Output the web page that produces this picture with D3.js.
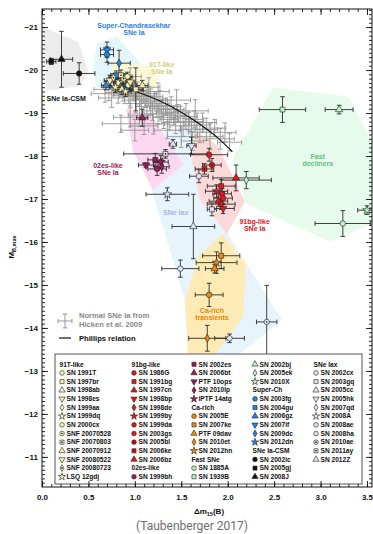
<!DOCTYPE html>
<html>
<head>
<meta charset="utf-8">
<script src="https://cdn.jsdelivr.net/npm/d3@7"></script>
<style>
    body { margin: 0; background: #fff; }
    svg { display: block; }
    text { font-family: 'Liberation Sans', Arial, sans-serif; }
</style>
</head>
<body>
<div id="chart"></div>
<script>
// ticks
const xTicks = [0, 0.5, 1, 1.5, 2, 2.5, 3, 3.5];
const yTicks = [-21, -20, -19, -18, -17, -16, -15, -14, -13, -12, -11];

// normal SNe Ia (Hicken et al. 2009): [dm15, M, dm15 err, M err]
const normalSNe = [
    [0.68, -19.45, 0.15, 0.20], [0.72, -19.55, 0.16, 0.26], [0.75, -19.35, 0.14, 0.22],
    [0.78, -19.62, 0.12, 0.22], [0.82, -19.48, 0.14, 0.25], [0.84, -19.70, 0.10, 0.18],
    [0.87, -19.58, 0.15, 0.30], [0.89, -19.42, 0.12, 0.20], [0.91, -19.66, 0.10, 0.24],
    [0.93, -19.50, 0.16, 0.28], [0.95, -19.38, 0.12, 0.22], [0.95, -19.85, 0.12, 0.20],
    [0.97, -19.58, 0.10, 0.26], [0.99, -19.46, 0.14, 0.18], [1.01, -19.30, 0.12, 0.30],
    [1.03, -19.52, 0.10, 0.20], [1.05, -19.40, 0.16, 0.24], [1.07, -19.22, 0.12, 0.28],
    [1.09, -19.45, 0.14, 0.22], [1.11, -19.33, 0.10, 0.20], [1.13, -19.15, 0.12, 0.26],
    [1.15, -19.38, 0.15, 0.24], [1.15, -19.60, 0.12, 0.22], [1.17, -19.26, 0.12, 0.30],
    [1.19, -19.05, 0.10, 0.22], [1.21, -19.30, 0.14, 0.20], [1.23, -19.18, 0.12, 0.28],
    [1.25, -18.98, 0.15, 0.24], [1.25, -19.50, 0.12, 0.20], [1.27, -19.22, 0.10, 0.30],
    [1.29, -19.10, 0.13, 0.22], [1.31, -18.90, 0.12, 0.26], [1.33, -19.15, 0.16, 0.20],
    [1.35, -19.02, 0.12, 0.28], [1.37, -18.85, 0.10, 0.24], [1.39, -19.08, 0.14, 0.30],
    [1.42, -18.95, 0.12, 0.22], [1.44, -18.78, 0.15, 0.26], [1.45, -19.30, 0.15, 0.24],
    [1.46, -19.00, 0.12, 0.20], [1.49, -18.88, 0.10, 0.28], [1.52, -18.70, 0.14, 0.24],
    [1.55, -18.92, 0.12, 0.30], [1.58, -18.80, 0.16, 0.22], [1.61, -18.62, 0.12, 0.26],
    [1.64, -18.85, 0.10, 0.20], [1.65, -19.05, 0.14, 0.26], [1.67, -18.72, 0.14, 0.28],
    [1.70, -18.55, 0.12, 0.24], [1.73, -18.78, 0.15, 0.22], [1.77, -18.62, 0.12, 0.26],
    [1.81, -18.45, 0.14, 0.30], [1.86, -18.65, 0.12, 0.20], [1.92, -18.40, 0.15, 0.24],
    [1.97, -18.55, 0.12, 0.22], [2.02, -18.32, 0.13, 0.20], [1.20, -18.75, 0.12, 0.24],
    [1.05, -18.95, 0.12, 0.26], [1.50, -18.45, 0.15, 0.25], [1.62, -18.35, 0.12, 0.22],
    [1.35, -18.60, 0.14, 0.20], [0.85, -18.75, 0.20, 0.20], [1.00, -18.60, 0.15, 0.25],
    [0.95, -18.90, 0.18, 0.22], [1.10, -18.70, 0.15, 0.20]
];

// Phillips relation
const phillipsDm = [0.90, 1.10, 1.30, 1.50, 1.70, 1.90, 2.05];
const phillipsM = [-19.57, -19.43, -19.25, -19.02, -18.74, -18.41, -18.10];

// groups: names and marker shapes as in the legend
const groupHeaders = ['91T-like', '91bg-like', '02es-like', 'Ca-rich', 'Fast SNe', 'Super-Ch', 'SNe Ia-CSM', 'SNe Iax'];
const groupColors = ['#f7f0b0', '#e3161e', '#9e1b5a', '#f28a0c', '#b8f2c2', '#1d87e4', '#111111', '#dde3f5'];

const t91Names = ['SN 1991T', 'SN 1997br', 'SN 1998ab', 'SN 1998es', 'SN 1999aa', 'SN 1999dq', 'SN 2000cx',
    'SNF 20070528', 'SNF 20070803', 'SNF 20070912', 'SNF 20080522', 'SNF 20080723', 'LSQ 12gdj'];
const t91Shapes = ['o', 's', '^', 'v', 'd', '*', 'o', 'o.', 's.', '^', 'v', 'd.', '*'];
const bgNames = ['SN 1986G', 'SN 1991bg', 'SN 1997cn', 'SN 1998bp', 'SN 1998de', 'SN 1999by', 'SN 1999da',
    'SN 2003gs', 'SN 2005bl', 'SN 2006ke', 'SN 2006bz'];
const bgShapes = ['o', 's', '^', 'v', 'd', '*', 'o', 'o', 'o.', 's.', '^'];
const esNames = ['SN 1999bh', 'SN 2002es', 'SN 2006bt', 'PTF 10ops', 'SN 2010lp', 'iPTF 14atg'];
const esShapes = ['o', 's', '^', 'v', 'd', '*'];
const caNames = ['SN 2005E', 'SN 2007ke', 'PTF 09dav', 'SN 2010et', 'SN 2012hn'];
const caShapes = ['o', 's', '^', 'd', '*'];
const fastNames = ['SN 1885A', 'SN 1939B', 'SN 2002bj', 'SN 2005ek', 'SN 2010X'];
const fastShapes = ['o', 's', '^', 'd', '*'];
const superChNames = ['SN 2003fg', 'SN 2004gu', 'SN 2006gz', 'SN 2007if', 'SN 2009dc', 'SN 2012dn'];
const superChShapes = ['o', 's', '^', 'v', 'd', '*'];
const csmNames = ['SN 2002ic', 'SN 2005gj', 'SN 2008J'];
const csmShapes = ['o', 's', '^'];
const iaxNames = ['SN 2002cx', 'SN 2003gq', 'SN 2005cc', 'SN 2005hk', 'SN 2007qd', 'SN 2008A', 'SN 2008ae',
    'SN 2008ha', 'SN 2010ae', 'SN 2011ay', 'SN 2012Z'];
const iaxShapes = ['o', 's', '^', 'v', 'd', '*', 'o', 'o', 'o.', 's.', '^'];

// measurements: [name, dm15, M, dm15 err, M err]
const t91Points = [
    ['SN 1998es', 0.73, -19.76, 0.06, 0.12], ['SN 1999aa', 0.82, -19.70, 0.05, 0.10],
    ['SN 1999dq', 0.79, -19.60, 0.06, 0.12], ['SN 2000cx', 0.93, -19.65, 0.05, 0.10],
    ['SNF 20070528', 0.88, -19.80, 0.06, 0.12], ['SNF 20070803', 0.85, -19.88, 0.06, 0.12],
    ['SN 1991T', 0.92, -19.85, 0.05, 0.10], ['SN 1998ab', 1.08, -19.64, 0.06, 0.12],
    ['SNF 20070912', 0.86, -19.55, 0.06, 0.12], ['SNF 20080522', 0.95, -19.72, 0.05, 0.10],
    ['SNF 20080723', 0.77, -19.82, 0.05, 0.10], ['LSQ 12gdj', 0.90, -19.50, 0.06, 0.12],
    ['SN 1997br', 1.01, -19.55, 0.08, 0.50]
];
const bgPoints = [
    ['SN 1986G', 1.80, -18.03, 0.20, 0.15], ['SN 2005bl', 1.83, -17.79, 0.10, 0.15],
    ['SN 2006ke', 1.75, -17.70, 0.10, 0.12], ['SN 2006bz', 2.09, -17.49, 0.25, 0.30],
    ['SN 1991bg', 1.93, -17.30, 0.15, 0.15], ['SN 1999by', 1.88, -17.18, 0.12, 0.15],
    ['SN 1999da', 1.94, -17.12, 0.10, 0.12], ['SN 2003gs', 1.95, -17.02, 0.10, 0.15],
    ['SN 1997cn', 1.90, -16.95, 0.10, 0.12], ['SN 1998de', 1.93, -16.88, 0.15, 0.12],
    ['SN 1998bp', 1.95, -16.78, 0.12, 0.12]
];
const esPoints = [
    ['SN 2006bt', 1.08, -18.89, 0.06, 0.20], ['PTF 10ops', 1.12, -17.79, 0.08, 0.05],
    ['SN 2002es', 1.22, -17.91, 0.08, 0.15], ['iPTF 14atg', 1.28, -17.86, 0.08, 0.15],
    ['SN 2010lp', 1.29, -17.75, 0.08, 0.15], ['SN 1999bh', 1.24, -17.70, 0.10, 0.15]
];
const caPoints = [
    ['SN 2007ke', 1.93, -15.68, 0.20, 0.30], ['SN 2012hn', 1.88, -15.52, 0.22, 0.25],
    ['PTF 09dav', 1.86, -15.38, 0.10, 0.10], ['SN 2005E', 1.80, -14.77, 0.15, 0.27],
    ['SN 2010et', 1.78, -13.76, 0.20, 0.30]
];
const fastPoints = [
    ['SN 1939B', 2.59, -19.08, 0.25, 0.30], ['SN 2002bj', 3.20, -19.08, 0.15, 0.10],
    ['SN 2005ek', 2.20, -17.44, 0.27, 0.20], ['SN 2010X', 3.50, -16.74, 0.10, 0.10],
    ['SN 1885A', 3.24, -16.43, 0.30, 0.30]
];
const superChPoints = [
    ['SN 2007if', 0.70, -20.47, 0.07, 0.18], ['SN 2003fg', 0.70, -20.36, 0.07, 0.18],
    ['SN 2009dc', 0.83, -20.16, 0.12, 0.30], ['SN 2004gu', 0.80, -19.88, 0.06, 0.10],
    ['SN 2006gz', 0.69, -19.64, 0.05, 0.10], ['SN 2012dn', 0.91, -19.57, 0.06, 0.10]
];
const csmPoints = [
    ['SN 2005gj', 0.10, -20.20, 0.05, 0.07], ['SN 2008J', 0.21, -20.25, 0.12, 0.65],
    ['SN 2002ic', 0.40, -19.92, 0.17, 0.25]
];
const iaxPoints = [
    ['SN 2012Z', 1.41, -18.28, 0.04, 0.10], ['SN 2011ay', 1.33, -18.05, 0.45, 0.10],
    ['SN 2005hk', 1.61, -18.24, 0.05, 0.20], ['SN 2002cx', 1.69, -17.53, 0.10, 0.15],
    ['SN 2008A', 1.35, -17.11, 0.23, 0.15], ['SN 2005cc', 1.63, -16.36, 0.23, 0.75],
    ['SN 2003gq', 1.83, -16.76, 0.05, 0.15], ['SN 2008ae', 1.49, -15.38, 0.20, 0.20],
    ['SN 2008ha', 2.02, -13.76, 0.16, 0.10], ['SN 2010ae', 2.42, -14.14, 0.11, 0.85]
];

// shaded class regions, outlines: [dm15, M]
const csmRegion = [[0.01, -21.0], [0.39, -20.65], [0.50, -19.95], [0.40, -19.62], [0.05, -19.52]];
const superChRegion = [[0.59, -20.63], [0.81, -20.77], [1.13, -19.99], [1.0, -19.57], [0.59, -19.59], [0.55, -19.99]];
const t91Region = [[0.76, -20.23], [1.16, -20.09], [1.27, -19.76], [1.11, -19.29], [0.73, -19.41]];
const iaxRegion = [[1.185, -17.18], [1.33, -18.59], [1.67, -18.73], [2.0, -16.18], [2.585, -14.19], [2.08, -13.30], [1.65, -13.45], [1.52, -14.79]];
const esRegion = [[0.905, -19.10], [1.185, -18.92], [1.52, -17.81], [1.195, -17.21], [0.98, -18.12]];
const bgRegion = [[1.647, -18.59], [1.895, -18.24], [2.186, -16.95], [1.992, -16.18], [1.70, -17.0], [1.615, -17.89]];
const fastRegion = [[2.488, -19.59], [3.295, -19.38], [3.56, -18.35], [3.56, -16.43], [3.10, -16.01], [2.186, -16.90], [2.057, -17.96]];
const caRegion = [[1.938, -16.18], [2.197, -15.50], [2.165, -14.26], [1.841, -13.32], [1.572, -13.32], [1.54, -14.61], [1.68, -15.66]];

const width = 373;
const height = 534;
const plot = { left: 42, right: 372, top: 9, bottom: 487 };

// scales
const xScale = d3.scaleLinear().domain([0, 3.554]).range([plot.left, plot.right]);
const yScale = d3.scaleLinear().domain([-21.42, -10.30]).range([plot.top, plot.bottom]);

const svg = d3.select('#chart')
    .append('svg')
    .attr('width', width)
    .attr('height', height);

svg.append('clipPath').attr('id', 'plot-clip')
    .append('rect')
    .attr('x', plot.left).attr('y', plot.top)
    .attr('width', plot.right - plot.left).attr('height', plot.bottom - plot.top);

const area = svg.append('g').attr('clip-path', 'url(#plot-clip)');

// regions
const polygon = d3.line().x(d => xScale(d[0])).y(d => yScale(d[1]));
[
    [csmRegion, '#ececec'],
    [superChRegion, '#e2f6fc'],
    [t91Region, '#fbf8d6'],
    [iaxRegion, '#e8f4fc'],
    [esRegion, '#fdd6f0'],
    [bgRegion, '#fdd9d9'],
    [fastRegion, '#e6fbeb'],
    [caRegion, '#fdeab4']
].forEach(([pts, fill]) => {
    area.append('path')
        .attr('d', polygon(pts) + 'Z')
        .attr('fill', fill)
        .attr('stroke', 'none');
});

function errorBar(g, x, y, ex, ey, color) {
    const cap = 2.3;
    const x0 = xScale(x - ex), x1 = xScale(x + ex);
    const y0 = yScale(y - ey), y1 = yScale(y + ey);
    const cx = xScale(x), cy = yScale(y);
    const bar = g.append('g').attr('stroke', color).attr('stroke-width', 0.9).attr('fill', 'none');
    bar.append('line').attr('x1', x0).attr('x2', x1).attr('y1', cy).attr('y2', cy);
    bar.append('line').attr('x1', cx).attr('x2', cx).attr('y1', y0).attr('y2', y1);
    bar.append('line').attr('x1', x0).attr('x2', x0).attr('y1', cy - cap).attr('y2', cy + cap);
    bar.append('line').attr('x1', x1).attr('x2', x1).attr('y1', cy - cap).attr('y2', cy + cap);
    bar.append('line').attr('x1', cx - cap).attr('x2', cx + cap).attr('y1', y0).attr('y2', y0);
    bar.append('line').attr('x1', cx - cap).attr('x2', cx + cap).attr('y1', y1).attr('y2', y1);
}

const shapeTypes = {
    'o': d3.symbolCircle, 's': d3.symbolSquare, '^': d3.symbolTriangle,
    'v': d3.symbolTriangle, 'd': d3.symbolDiamond, '*': d3.symbolStar
};

function marker(g, shape, color, cx, cy, size) {
    const base = shape.replace('.', '');
    const m = g.append('g').attr('transform', `translate(${cx},${cy})`);
    m.append('path')
        .attr('d', d3.symbol().type(shapeTypes[base]).size(base === 'd' ? size * 0.8 : size)())
        .attr('transform', base === 'v' ? 'rotate(180)' : null)
        .attr('fill', color)
        .attr('stroke', '#222')
        .attr('stroke-width', 0.6);
    if (shape.endsWith('.')) {
        m.append('circle').attr('r', 0.8).attr('fill', '#111');
    }
}

// lookup of style by name
const styleByName = {};
[
    [t91Names, t91Shapes, 0], [bgNames, bgShapes, 1], [esNames, esShapes, 2], [caNames, caShapes, 3],
    [fastNames, fastShapes, 4], [superChNames, superChShapes, 5], [csmNames, csmShapes, 6], [iaxNames, iaxShapes, 7]
].forEach(([names, shapes, gi]) => {
    names.forEach((n, i) => { styleByName[n] = { shape: shapes[i], color: groupColors[gi] }; });
});

// normal SNe Ia
const normals = area.append('g').attr('class', 'normals');
normalSNe.forEach(d => errorBar(normals, d[0], d[1], d[2], d[3], '#959595'));

// Phillips relation
const phillips = d3.line()
    .curve(d3.curveMonotoneX)
    .x((d, i) => xScale(phillipsDm[i]))
    .y((d, i) => yScale(phillipsM[i]));
area.append('path')
    .attr('fill', 'none')
    .attr('stroke', '#111')
    .attr('stroke-width', 1.2)
    .attr('d', phillips(phillipsDm));

// peculiar SNe
const pec = area.append('g').attr('class', 'peculiar');
const allPoints = [csmPoints, superChPoints, t91Points, esPoints, iaxPoints, bgPoints, fastPoints, caPoints];
allPoints.forEach(pts => pts.forEach(d => errorBar(pec, d[1], d[2], d[3], d[4], '#2b2b2b')));
allPoints.forEach(pts => pts.forEach(d => {
    const st = styleByName[d[0]];
    marker(pec, st.shape, st.color, xScale(d[1]), yScale(d[2]), 24);
}));

// region labels: [lines, dm15, M of first baseline, colour]
const regionLabels = [
    [['Super-Chandrasekhar', 'SNe Ia'], 0.99, -20.98, '#2f7fe0'],
    [['91T-like', 'SNe Ia'], 1.29, -20.07, '#d6cc78'],
    [['SNe Ia-CSM'], 0.26, -19.28, '#111'],
    [['02es-like', 'SNe Ia'], 0.71, -17.72, '#a0185a'],
    [['SNe Iax'], 1.44, -16.63, '#a6b7e0'],
    [['91bg-like', 'SNe Ia'], 2.29, -16.42, '#e3161e'],
    [['Ca-rich', 'transients'], 1.83, -14.35, '#f08400'],
    [['Fast', 'decliners'], 2.97, -17.93, '#5ec27a']
];
regionLabels.forEach(([lines, x, y, color]) => {
    const t = svg.append('text')
        .attr('x', xScale(x))
        .attr('y', yScale(y))
        .attr('text-anchor', 'middle')
        .style('font-size', '7px')
        .style('font-weight', 'bold')
        .attr('fill', color);
    lines.forEach((l, i) => t.append('tspan').attr('x', xScale(x)).attr('dy', i ? 7 : 0).text(l));
});

// in-plot key
errorBar(svg, xScale.invert(65), yScale.invert(321), 0.075, 0.16, '#8c8c8c');
svg.append('text').attr('x', 79).attr('y', 318).style('font-size', '7.6px').style('font-weight', 'bold')
    .attr('fill', '#8a8a8a').text('Normal SNe Ia from');
svg.append('text').attr('x', 79).attr('y', 326.5).style('font-size', '7.6px').style('font-weight', 'bold')
    .attr('fill', '#8a8a8a').text('Hicken et al. 2009');
svg.append('line').attr('x1', 59).attr('x2', 71).attr('y1', 338).attr('y2', 338)
    .attr('stroke', '#111').attr('stroke-width', 1.2);
svg.append('text').attr('x', 79).attr('y', 340.5).style('font-size', '7.6px').style('font-weight', 'bold')
    .attr('fill', '#111').text('Phillips relation');

// legend box
const legend = svg.append('g').attr('class', 'legend');
legend.append('rect')
    .attr('x', 55).attr('y', 354).attr('width', 307).attr('height', 130)
    .attr('fill', '#fff').attr('stroke', '#555').attr('stroke-width', 1);

const legendItems = [];
[t91Names, bgNames, esNames, caNames, fastNames, superChNames, csmNames, iaxNames].forEach((names, gi) => {
    legendItems.push({ header: true, label: groupHeaders[gi] });
    names.forEach(n => legendItems.push({ header: false, label: n }));
});
const colX = [62, 134, 194, 255, 316];
legendItems.forEach((item, i) => {
    const col = Math.floor(i / 14);
    const row = i % 14;
    const x = colX[col];
    const y = 366.5 + row * 8.65;
    if (item.header) {
        legend.append('text').attr('x', x - 2.5).attr('y', y)
            .style('font-size', '6.6px').style('font-weight', 'bold').attr('fill', '#111').text(item.label);
    } else {
        const st = styleByName[item.label];
        marker(legend, st.shape, st.color, x, y - 2.2, 17);
        legend.append('text').attr('x', x + 4.5).attr('y', y)
            .style('font-size', '6.6px').style('font-weight', 'bold').attr('fill', '#111').text(item.label);
    }
});

// axes
const tickFont = g => g.selectAll('text').style('font-size', '8px').style('font-weight', 'bold').attr('fill', '#111');
const minorX = d3.range(0, 3.55, 0.1);
const minorY = d3.range(-21.4, -10.3, 0.1);

svg.append('g')
    .attr('transform', `translate(0,${plot.bottom})`)
    .call(d3.axisBottom(xScale).tickValues(xTicks).tickFormat(d3.format('.1f')).tickSizeInner(-6).tickSizeOuter(0).tickPadding(7))
    .call(tickFont)
    .call(g => g.select('.domain').remove());
svg.append('g')
    .attr('transform', `translate(0,${plot.bottom})`)
    .call(d3.axisBottom(xScale).tickValues(minorX).tickFormat('').tickSizeInner(-3).tickSizeOuter(0))
    .call(g => g.select('.domain').remove());
svg.append('g')
    .attr('transform', `translate(0,${plot.top})`)
    .call(d3.axisTop(xScale).tickValues(xTicks).tickFormat('').tickSizeInner(-6).tickSizeOuter(0))
    .call(g => g.select('.domain').remove());
svg.append('g')
    .attr('transform', `translate(0,${plot.top})`)
    .call(d3.axisTop(xScale).tickValues(minorX).tickFormat('').tickSizeInner(-3).tickSizeOuter(0))
    .call(g => g.select('.domain').remove());

svg.append('g')
    .attr('transform', `translate(${plot.left},0)`)
    .call(d3.axisLeft(yScale).tickValues(yTicks).tickFormat(d3.format('d')).tickSizeInner(-6).tickSizeOuter(0).tickPadding(4))
    .call(tickFont)
    .call(g => g.select('.domain').remove());
svg.append('g')
    .attr('transform', `translate(${plot.left},0)`)
    .call(d3.axisLeft(yScale).tickValues(minorY).tickFormat('').tickSizeInner(-3).tickSizeOuter(0))
    .call(g => g.select('.domain').remove());
svg.append('g')
    .attr('transform', `translate(${plot.right},0)`)
    .call(d3.axisRight(yScale).tickValues(yTicks).tickFormat('').tickSizeInner(-6).tickSizeOuter(0))
    .call(g => g.select('.domain').remove());
svg.append('g')
    .attr('transform', `translate(${plot.right},0)`)
    .call(d3.axisRight(yScale).tickValues(minorY).tickFormat('').tickSizeInner(-3).tickSizeOuter(0))
    .call(g => g.select('.domain').remove());

svg.selectAll('.tick line').attr('stroke', '#111').attr('stroke-width', 0.9);

// frame
svg.append('rect')
    .attr('x', plot.left).attr('y', plot.top)
    .attr('width', plot.right - plot.left).attr('height', plot.bottom - plot.top)
    .attr('fill', 'none').attr('stroke', '#111').attr('stroke-width', 1);

// axis titles
const xTitle = svg.append('text')
    .attr('x', 209).attr('y', 514)
    .attr('text-anchor', 'middle')
    .style('font-size', '8px').style('font-weight', 'bold').attr('fill', '#111');
xTitle.append('tspan').text('Δm');
xTitle.append('tspan').attr('dy', 2).style('font-size', '5.5px').text('15');
xTitle.append('tspan').attr('dy', -2).text('(B)');

const yTitle = svg.append('text')
    .attr('transform', 'translate(14,247) rotate(-90)')
    .attr('text-anchor', 'middle')
    .style('font-size', '8px').style('font-weight', 'bold').attr('fill', '#111');
yTitle.append('tspan').text('M');
yTitle.append('tspan').attr('dy', 2).style('font-size', '5.5px').text('B,max');

// caption
svg.append('text')
    .attr('x', 192).attr('y', 530)
    .attr('text-anchor', 'middle')
    .style('font-family', 'Roboto, sans-serif')
    .style('font-size', '12px')
    .attr('fill', '#6f6f6f')
    .text('(Taubenberger 2017)');
</script>
</body>
</html>
